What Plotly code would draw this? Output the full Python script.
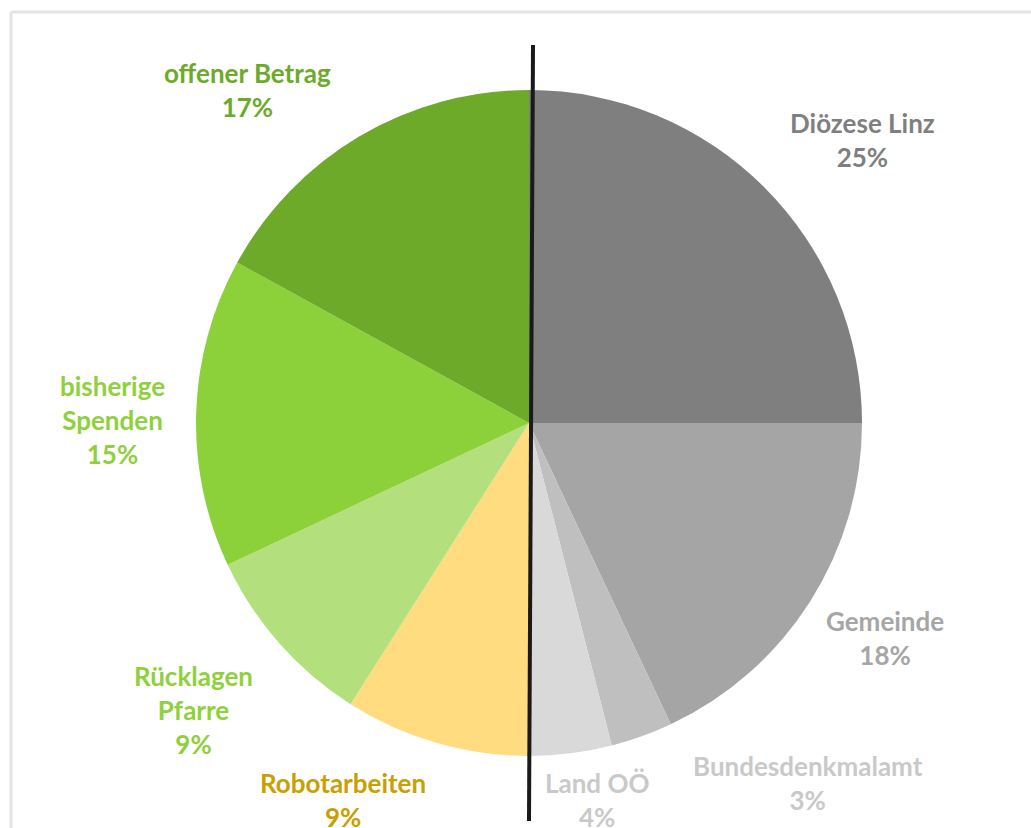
import plotly.graph_objects as go

labels = ["Diözese Linz", "Gemeinde", "Bundesdenkmalamt", "Land OÖ",
          "Robotarbeiten", "Rücklagen Pfarre", "bisherige Spenden", "offener Betrag"]
values = [25, 18, 3, 4, 9, 9, 15, 17]
slice_colors = ["#7F7F7F", "#A5A5A5", "#BFBFBF", "#D9D9D9",
                "#FFDC80", "#B3E07C", "#8CD03A", "#6DAA2A"]
label_text = ["Diözese Linz", "Gemeinde", "Bundesdenkmalamt", "Land OÖ",
              "Robotarbeiten", "Rücklagen<br>Pfarre", "bisherige<br>Spenden", "offener Betrag"]
label_colors = ["#7F7F7F", "#A6A6A6", "#C9C9C9", "#C9C9C9",
                "#C9A000", "#8ED13C", "#8ED13C", "#6DAA2A"]
# label centre positions (pixels, top-left origin) - layout only
label_pos = [(862, 140), (885, 638), (808, 783), (597, 800),
             (343, 800), (193, 710), (112, 420), (247, 90)]

W, H = 1031, 828
cx, cy, r = 529, 423, 333

fig = go.Figure()
fig.add_trace(go.Pie(
    labels=labels, values=values, sort=False, direction="clockwise", rotation=0,
    marker=dict(colors=slice_colors, line=dict(width=0)),
    textinfo="none", hoverinfo="label+percent", showlegend=False,
    domain=dict(x=[(cx - r) / W, (cx + r) / W], y=[(H - cy - r) / H, (H - cy + r) / H]),
))

total = sum(values)
for lab, v, col, (px, py) in zip(label_text, values, label_colors, label_pos):
    fig.add_annotation(
        x=px / W, y=1 - py / H, xref="paper", yref="paper",
        xanchor="center", yanchor="middle",
        text=f"<b>{lab}<br>{round(100 * v / total)}%</b>",
        showarrow=False, align="center",
        font=dict(family="Lato", size=26, color=col),
    )

# frame lines
fig.add_shape(type="line", xref="paper", yref="paper", x0=11 / W, x1=1, y0=1 - 12 / H, y1=1 - 12 / H,
              line=dict(color="#E4E4E4", width=3))
fig.add_shape(type="line", xref="paper", yref="paper", x0=11 / W, x1=11 / W, y0=1 - 12 / H, y1=0,
              line=dict(color="#E4E4E4", width=3))
# black divider line
fig.add_shape(type="line", xref="paper", yref="paper", x0=533 / W, x1=529 / W, y0=1 - 45 / H, y1=1 - 821 / H,
              line=dict(color="#1A1A1A", width=4))

fig.update_layout(width=W, height=H, margin=dict(l=0, r=0, t=0, b=0),
                  paper_bgcolor="white", plot_bgcolor="white")
fig.write_html("out.html")
